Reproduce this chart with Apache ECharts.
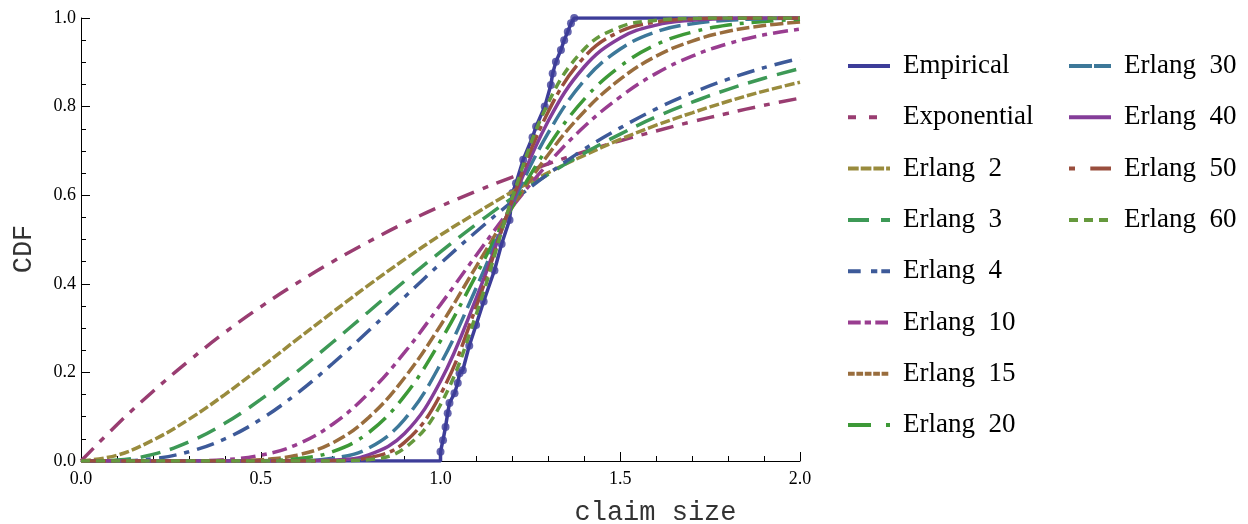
<!DOCTYPE html>
<html>
<head>
<meta charset="utf-8">
<script src="https://cdn.jsdelivr.net/npm/echarts@6/dist/echarts.min.js"></script>
<style>
html,body{margin:0;padding:0;background:#fff;}
#chart{width:1248px;height:524px;}
</style>
</head>
<body>
<div id="chart"></div>
<script>
// x grid for the fitted CDF curves
var xs = [0,0.1,0.2,0.3,0.4,0.5,0.6,0.7,0.8,0.9,1.0,1.1,1.2,1.3,1.4,1.5,1.6,1.7,1.8,1.9,2.0];

var exponential = [0,0.082,0.157,0.226,0.290,0.348,0.401,0.450,0.495,0.537,0.575,0.609,0.641,0.671,0.698,0.723,0.745,0.766,0.785,0.803,0.819];
var erlang2  = [0,0.013,0.047,0.094,0.150,0.211,0.274,0.336,0.397,0.455,0.510,0.560,0.608,0.651,0.690,0.726,0.758,0.786,0.812,0.835,0.855];
var erlang3  = [0,0.002,0.015,0.043,0.085,0.139,0.201,0.268,0.337,0.406,0.472,0.535,0.594,0.647,0.695,0.738,0.777,0.810,0.839,0.864,0.886];
var erlang4  = [0,0.0005,0.005,0.021,0.050,0.094,0.152,0.220,0.294,0.370,0.446,0.518,0.586,0.648,0.704,0.752,0.795,0.831,0.862,0.888,0.909];
var erlang10 = [0,0,0,0.0004,0.003,0.013,0.037,0.083,0.153,0.245,0.353,0.465,0.574,0.672,0.755,0.822,0.875,0.914,0.942,0.962,0.975];
var erlang15 = [0,0,0,0,0.0003,0.003,0.013,0.041,0.098,0.188,0.306,0.440,0.573,0.692,0.789,0.862,0.914,0.948,0.970,0.983,0.991];
var erlang20 = [0,0,0,0,0,0.0006,0.005,0.021,0.064,0.147,0.271,0.421,0.575,0.710,0.817,0.891,0.940,0.968,0.984,0.992,0.997];
var erlang30 = [0,0,0,0,0,0,0.0006,0.006,0.029,0.094,0.219,0.392,0.580,0.741,0.859,0.930,0.969,0.987,0.995,0.998,1.0];
var erlang40 = [0,0,0,0,0,0,0.0001,0.002,0.014,0.062,0.180,0.369,0.585,0.768,0.890,0.955,0.984,0.995,0.999,1.0,1.0];
var erlang50 = [0,0,0,0,0,0,0,0.0005,0.007,0.042,0.150,0.350,0.590,0.789,0.912,0.970,0.991,0.998,1.0,1.0,1.0];
var erlang60 = [0,0,0,0,0,0,0,0.0002,0.003,0.029,0.127,0.333,0.595,0.809,0.930,0.980,0.995,0.999,1.0,1.0,1.0];

// empirical CDF (claim size, cumulative share)
var empiricalX = [0,1.0,1.0,1.007,1.014,1.020,1.025,1.039,1.048,1.053,1.062,1.080,1.099,1.120,1.150,1.170,1.192,1.200,1.210,1.230,1.256,1.266,1.290,1.307,1.312,1.321,1.335,1.344,1.354,1.363,1.372,2.0];
var empiricalY = [0,0,0.021,0.047,0.077,0.108,0.131,0.153,0.176,0.198,0.205,0.260,0.307,0.360,0.430,0.490,0.544,0.605,0.627,0.680,0.731,0.755,0.800,0.849,0.875,0.901,0.928,0.950,0.969,0.988,1.0,1.0];

var xTicks = [0,0.5,1.0,1.5,2.0];
var yTicks = [0,0.2,0.4,0.6,0.8,1.0];

var names = ['Empirical','Exponential','Erlang  2','Erlang  3','Erlang  4','Erlang  10','Erlang  15','Erlang  20','Erlang  30','Erlang  40','Erlang  50','Erlang  60'];
var colors = ['#3d3d99','#993d71','#998b3d','#3d9956','#3d5a99','#993d90','#996d3d','#3d9937','#3d7899','#843d99','#994e3d','#65993d'];
var plotDash = ['solid',[18,9,6,9],[10,3],[20,10],[18,8,5,8],[15,6,5,6],[13,4],[22,8,4,8],[22,7],'solid',[25,5,5,5],[9,6]];
var legendDash = ['solid',[8,13],[10.7,2],[21,12],[12.7,10.3,6.3,4],[12.7,4,6.3,4.3],[6.7,1.7],[23,15,4.3,30],[23,2],'solid',[6,15.3,21.3,10],[9,6]];
var fitted = [exponential,erlang2,erlang3,erlang4,erlang10,erlang15,erlang20,erlang30,erlang40,erlang50,erlang60];

function pairs(xa, ya){ var out=[]; for(var i=0;i<xa.length;i++) out.push([xa[i], ya[i]]); return out; }

var series = [];
series.push({
  name: names[0], type:'line', data: pairs(empiricalX, empiricalY), symbol:'none',
  lineStyle:{color:colors[0], width:3.5}, itemStyle:{color:colors[0]}, z:2
});
series.push({
  name: 'Empirical points', type:'scatter',
  data: pairs(empiricalX.slice(2, empiricalX.length-1), empiricalY.slice(2, empiricalY.length-1)),
  symbol:'circle', symbolSize:8, itemStyle:{color:colors[0]}, z:2
});
for (var k=0;k<fitted.length;k++){
  series.push({
    name: names[k+1], type:'line', data: pairs(xs, fitted[k]), symbol:'none',
    smooth:0.4,
    lineStyle:{color:colors[k+1], width:3.5, type:plotDash[k+1]},
    itemStyle:{color:colors[k+1]}, z:3+k
  });
}

function legendData(from, to){
  var d=[];
  for (var i=from;i<to;i++) d.push({
    name:names[i],
    lineStyle:{type:legendDash[i], width:4, color:colors[i]},
    itemStyle:{color:'rgba(0,0,0,0)', borderColor:'rgba(0,0,0,0)', borderWidth:0, opacity:0}
  });
  return d;
}
var legendText = {fontFamily:'Liberation Serif', fontSize:27, color:'#000', padding:[0,0,0,8], lineHeight:30};

var chart = echarts.init(document.getElementById('chart'), null, {renderer:'canvas'});
chart.setOption({
  animation:false,
  backgroundColor:'#fff',
  grid:{left:81, right:448, top:18, bottom:63, containLabel:false, outerBoundsMode:'none'},
  legend:[
    {data:legendData(0,8), orient:'vertical', left:846, top:51, padding:0, itemWidth:42, itemHeight:14, itemGap:21.3, selectedMode:false, textStyle:legendText},
    {data:legendData(8,12), orient:'vertical', left:1067, top:51, padding:0, itemWidth:42, itemHeight:14, itemGap:21.3, selectedMode:false, textStyle:legendText}
  ],
  xAxis:{
    type:'value', min:0, max:2, interval:0.5,
    name:'claim size', nameLocation:'middle', nameGap:38,
    nameTextStyle:{fontFamily:'Liberation Mono', fontSize:27, color:'#333', padding:[0,0,0,430]},
    axisLine:{show:true, lineStyle:{color:'#000', width:1}},
    axisTick:{show:true, inside:true, length:9, lineStyle:{color:'#000'}},
    minorTick:{show:true, splitNumber:5, length:5, lineStyle:{color:'#000'}},
    splitLine:{show:false},
    axisLabel:{fontFamily:'Liberation Serif', fontSize:18, color:'#000', margin:9,
      formatter:function(v){ return xTicks.indexOf(v)>=0 ? v.toFixed(1) : ''; }}
  },
  yAxis:{
    type:'value', min:0, max:1, interval:0.2,
    name:'CDF', nameLocation:'middle', nameGap:44,
    nameTextStyle:{fontFamily:'Liberation Mono', fontSize:27, color:'#333', padding:[0,19,0,0]},
    axisLine:{show:true, lineStyle:{color:'#000', width:1}},
    axisTick:{show:true, inside:true, length:9, lineStyle:{color:'#000'}},
    minorTick:{show:true, splitNumber:4, length:5, lineStyle:{color:'#000'}},
    splitLine:{show:false},
    axisLabel:{fontFamily:'Liberation Serif', fontSize:18, color:'#000', margin:5,
      formatter:function(v){ var r=Math.round(v*10)/10; return yTicks.indexOf(r)>=0 ? r.toFixed(1) : ''; }}
  },
  series: series
});
</script>
</body>
</html>
